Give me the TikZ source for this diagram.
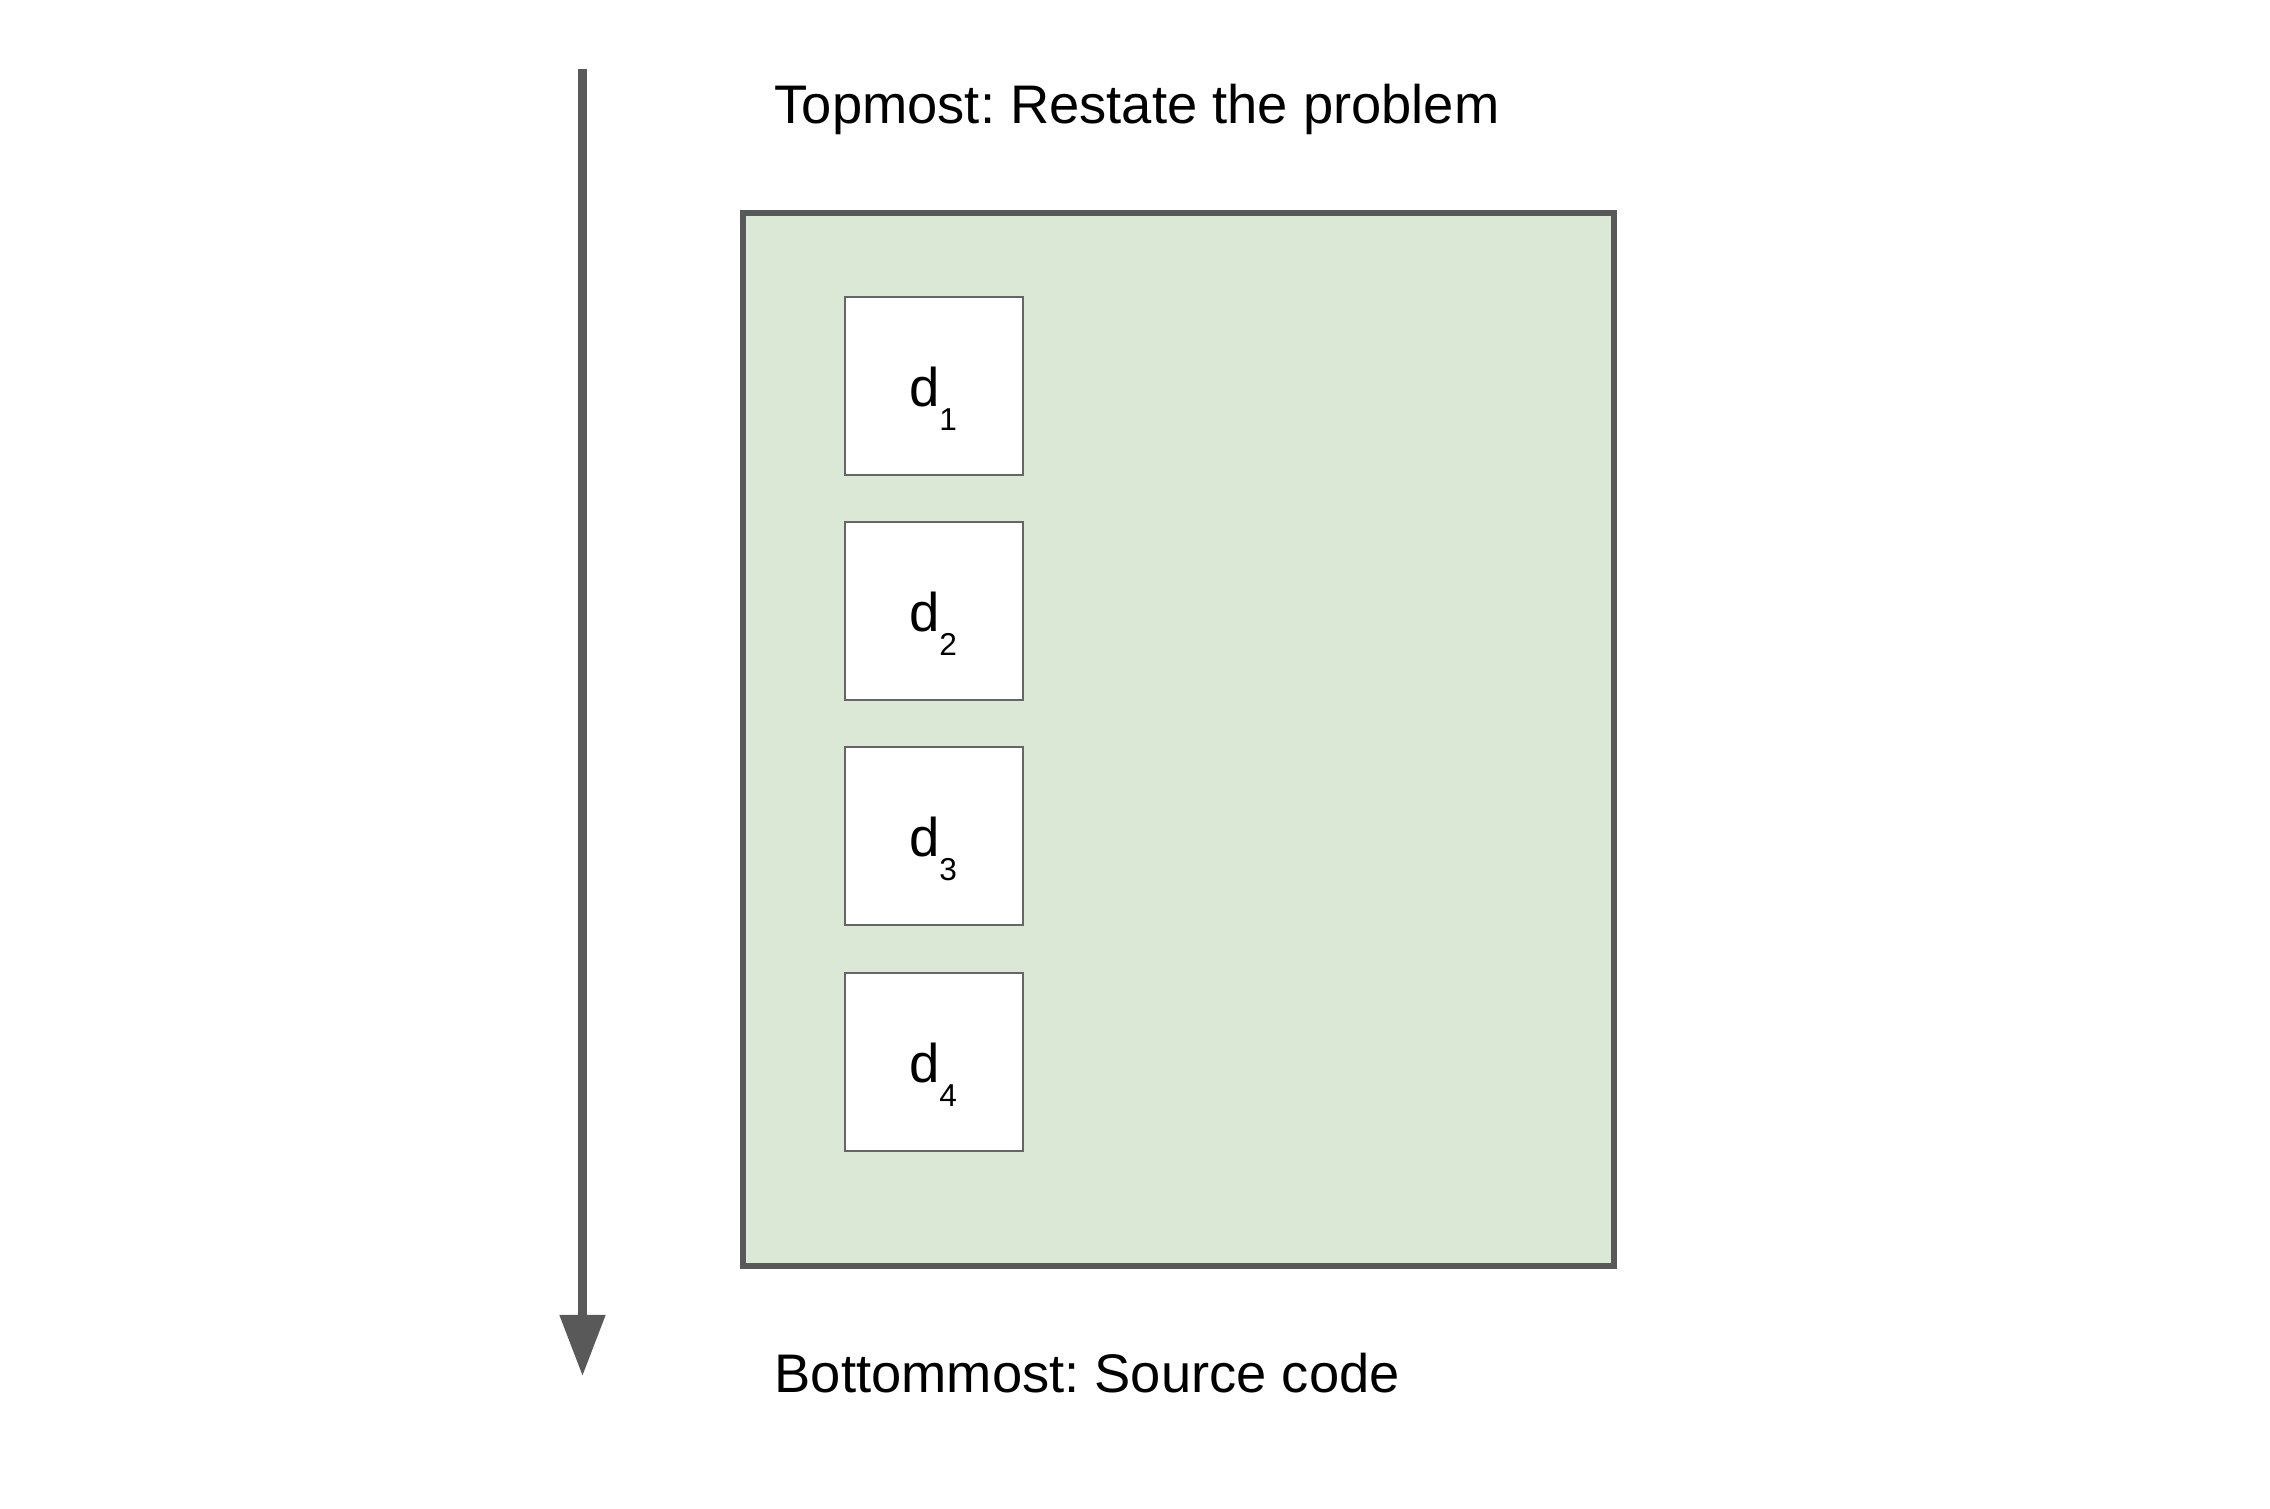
\documentclass[tikz,border=0pt]{standalone}
\usepackage{fontspec}
\setmainfont{Liberation Sans}
\usetikzlibrary{arrows.meta}
\frenchspacing
\definecolor{darkgray}{HTML}{595959}
\definecolor{boxgray}{HTML}{666666}
\definecolor{lightgreen}{HTML}{DBE8D5}
\tikzset{
  outerbox/.style={draw=darkgray, fill=lightgreen, line width=1.75pt, minimum width=8.70cm, minimum height=10.52cm, inner sep=0pt, outer sep=0pt},
  dbox/.style={draw=boxgray, fill=white, line width=0.75pt, minimum width=1.78cm, minimum height=1.78cm, inner sep=0pt, outer sep=0pt},
  dlabel/.style={anchor=base, inner sep=0pt, font=\fontsize{15.5pt}{18pt}\selectfont},
  caption/.style={anchor=base west, inner sep=0pt, font=\fontsize{15.45pt}{18pt}\selectfont},
  flowarrow/.style={draw=darkgray, line width=2.42pt, -{Triangle[width=12.5pt, length=17.4pt]}}
}
\newcommand{\dsub}[1]{d\raisebox{-6.9pt}{\fontsize{9pt}{10pt}\selectfont #1}}
\begin{document}
\begin{tikzpicture}[x=0.01cm, y=-0.01cm]
\useasboundingbox (0,0) rectangle (2270,1508);
\coordinate (atop) at (582.5,69);
\coordinate (abot) at (582.5,1376);
\draw[flowarrow] (atop) -- (abot);
\node[caption] (toptxt) at (774,123.5) {Topmost: Restate the problem};
\node[caption] (bottxt) at (774,1392.7) {Bottommost: Source code};
\node[outerbox] (big) at (1178.5,739.5) {};
\node[dbox] (b1) at (934,386) {};
\node[dbox] (b2) at (934,611) {};
\node[dbox] (b3) at (934,836) {};
\node[dbox] (b4) at (934,1062) {};
\node[dlabel] (l1) at (933,406.7) {\dsub{1}};
\node[dlabel] (l2) at (933,631.7) {\dsub{2}};
\node[dlabel] (l3) at (933,856.7) {\dsub{3}};
\node[dlabel] (l4) at (933,1082.7) {\dsub{4}};
\end{tikzpicture}
\end{document}
